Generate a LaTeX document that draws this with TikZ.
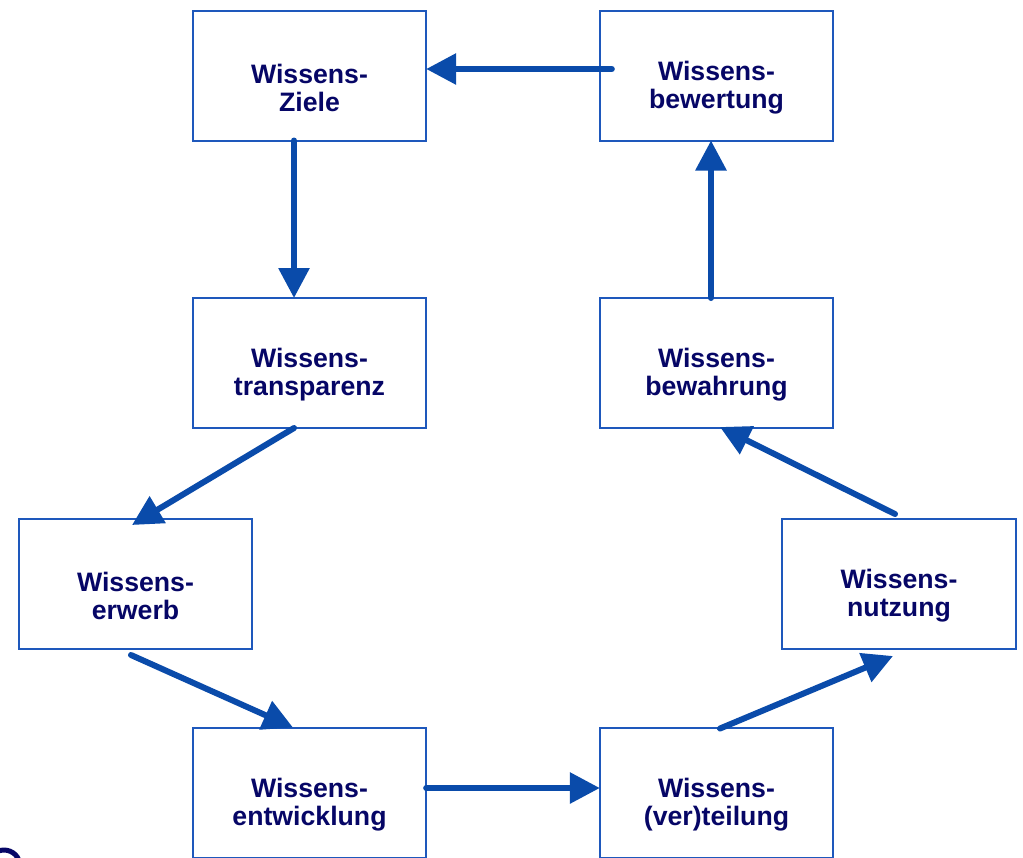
\documentclass[tikz,border=0pt]{standalone}
\usepackage{fontspec}
\setmainfont{Liberation Sans}
\usetikzlibrary{arrows.meta,calc}
\definecolor{boxblue}{RGB}{30,88,188}
\definecolor{flowblue}{RGB}{10,75,170}
\definecolor{navy}{RGB}{6,6,102}
\tikzset{
  phase/.style={draw=boxblue, line width=1.5pt, fill=white, outer sep=0pt,
    minimum width=175pt, minimum height=97.5pt},
  phasetext/.style={align=center, text=navy, yshift=-9pt,
    font=\fontsize{20}{21}\selectfont\bfseries},
  flow/.style={draw=flowblue, line width=4.5pt, line cap=round,
    -{Triangle[length=22.5pt,width=22.5pt]}, fill=flowblue}
}
\begin{document}
\begin{tikzpicture}[x=0.75pt,y=-0.75pt]
\useasboundingbox (0,0) rectangle (1023,857);
\begin{scope}
\clip (0,0) rectangle (1023,857);
% knowledge management building blocks
\node[phase, label={[phasetext]center:Wissens-\\Ziele}]       (ziele)  at (309.5,75.5)  {};
\node[phase, label={[phasetext]center:Wissens-\\bewertung}]   (bewert) at (716.5,75.5)  {};
\node[phase, label={[phasetext]center:Wissens-\\transparenz}] (transp) at (309.5,363)   {};
\node[phase, label={[phasetext]center:Wissens-\\bewahrung}]   (bewahr) at (716.5,363)   {};
\node[phase, label={[phasetext]center:Wissens-\\erwerb}]      (erwerb) at (135.5,584)   {};
\node[phase, label={[phasetext]center:Wissens-\\nutzung}]     (nutz)   at (899,584)     {};
\node[phase, label={[phasetext]center:Wissens-\\entwicklung}] (entw)   at (309.5,792.5) {};
\node[phase, label={[phasetext]center:Wissens-\\(ver)teilung}] (teil)  at (716.5,792.5) {};
% cycle of arrows
\draw[flow] ($(bewert.west)+(12,-6.5)$) -- ($(ziele.east)+(0,-6.5)$);
\draw[flow] ($(ziele.south)+(-15.5,0)$) -- ($(transp.north)+(-15.5,0)$);
\draw[flow] ($(transp.south)+(-15.5,0)$) -- ($(erwerb.north)+(-3.5,6)$);
\draw[flow] ($(erwerb.south)+(-4.5,6)$) -- ($(entw.north)+(-16.5,0)$);
\draw[flow] ($(entw.east)+(0,-4.5)$) -- ($(teil.west)+(0,-4.5)$);
\draw[flow] ($(teil.north)+(3.5,1)$) -- ($(nutz.south)+(-6,7)$);
\draw[flow] ($(nutz.north)+(-4,-5)$) -- ($(bewahr.south)+(3.5,-1)$);
\draw[flow] ($(bewahr.north)+(-5.5,0)$) -- ($(bewert.south)+(-5.5,0)$);
% ring in the lower left corner
\draw[navy, line width=3.75pt] (4,866) circle[radius=16];
\end{scope}
\end{tikzpicture}
\end{document}
